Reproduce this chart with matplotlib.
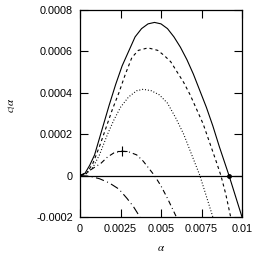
import numpy as np
import matplotlib
matplotlib.use("Agg")
import matplotlib.pyplot as plt

plt.rcParams["font.family"] = ["Liberation Sans", "DejaVu Sans"]
plt.rcParams["mathtext.fontset"] = "stix"
plt.rcParams["lines.scale_dashes"] = False

# ------------------------------------------------------------------
# Data
# ------------------------------------------------------------------

solid_x = [0, 0.0003, 0.0006, 0.0009, 0.0012, 0.0015, 0.0018, 0.0022, 0.0026, 0.003,
           0.0034, 0.0038, 0.0042, 0.0046, 0.005, 0.0054, 0.0058, 0.0062, 0.0066, 0.007,
           0.0074, 0.0078, 0.0082, 0.0086, 0.0089, 0.0092, 0.0096, 0.01]
solid_y = [0, 0.00001, 0.00005, 0.0001, 0.00018, 0.00026, 0.00034, 0.00044, 0.00053, 0.0006,
           0.00067, 0.00071, 0.000733, 0.00074, 0.000733, 0.00071, 0.00067, 0.00062, 0.00056, 0.00049,
           0.00041, 0.00033, 0.00024, 0.00014, 0.00007, 0.0, -0.0001, -0.0002]

dashed_x = [0, 0.0004, 0.0008, 0.0012, 0.0016, 0.002, 0.0024, 0.0028, 0.0032, 0.0036,
            0.0042, 0.0048, 0.0052, 0.0056, 0.006, 0.0064, 0.0068, 0.0072, 0.0076, 0.008,
            0.0084, 0.0087, 0.009, 0.0093]
dashed_y = [0, 0.00001, 0.00006, 0.00014, 0.00023, 0.00032, 0.0004, 0.00049, 0.00057, 0.000605,
            0.000617, 0.000605, 0.00058, 0.00055, 0.0005, 0.00045, 0.00039, 0.00032, 0.00025, 0.00016,
            0.00007, 0.0, -0.00009, -0.0002]

dotted_x = [0, 0.0004, 0.0008, 0.0012, 0.0017, 0.0021, 0.0025, 0.003, 0.0035, 0.0039,
            0.0044, 0.0049, 0.0054, 0.0059, 0.0064, 0.0069, 0.0074, 0.0078, 0.0082]
dotted_y = [0, 0.00001, 0.00004, 0.0001, 0.0002, 0.00027, 0.00033, 0.00038, 0.00041, 0.000417,
            0.00041, 0.00039, 0.00035, 0.00028, 0.0002, 0.0001, 0.0, -0.0001, -0.0002]

dashdot_x = [0, 0.0005, 0.0009, 0.0013, 0.0017, 0.0021, 0.0026, 0.003, 0.0035, 0.0039,
             0.0043, 0.0046, 0.005, 0.0054, 0.00595]
dashdot_y = [0, 0.00002, 0.00004, 0.00006, 0.00009, 0.00011, 0.000118, 0.000115, 0.0001, 0.00007,
             0.00003, 0.0, -0.00005, -0.00011, -0.0002]

longdash_x = [0, 0.0006, 0.0012, 0.0018, 0.0024, 0.0029, 0.0033, 0.0037]
longdash_y = [0, -0.000003, -0.000015, -0.000035, -0.000065, -0.00011, -0.00015, -0.0002]

peak_marker = (0.00257, 0.000117)
root_marker = (0.0092, 0.0)

xticks = [0, 0.0025, 0.005, 0.0075, 0.01]
xtick_labels = ["0", "0.0025", "0.005", "0.0075", "0.01"]
yticks = [-0.0002, 0, 0.0002, 0.0004, 0.0006, 0.0008]
ytick_labels = ["-0.0002", "0", "0.0002", "0.0004", "0.0006", "0.0008"]

# ------------------------------------------------------------------
# Plot
# ------------------------------------------------------------------

fig = plt.figure(figsize=(2.67, 2.58), dpi=100)
ax = fig.add_axes([80 / 267, 41 / 258, 162 / 267, 207 / 258])

lw = 0.8
ax.axhline(0, color="black", lw=0.9)
ax.plot(solid_x, solid_y, color="black", lw=lw)
ax.plot(dashed_x, dashed_y, color="black", lw=lw, linestyle=(0, (2.2, 2.2)))
ax.plot(dotted_x, dotted_y, color="black", lw=lw, linestyle=(0, (0.7, 1.4)))
ax.plot(dashdot_x, dashdot_y, color="black", lw=lw, linestyle=(0, (3.6, 2.2, 0.7, 2.2)))
ax.plot(longdash_x, longdash_y, color="black", lw=lw, linestyle=(0, (6, 2.5, 0.7, 2.5)))

ax.plot(*peak_marker, marker="+", color="black", markersize=7, mew=0.8)
ax.plot(*root_marker, marker="o", color="black", markersize=2.5)

ax.set_xlim(0, 0.01)
ax.set_ylim(-0.0002, 0.0008)
ax.set_xticks(xticks)
ax.set_xticklabels(xtick_labels)
ax.set_yticks(yticks)
ax.set_yticklabels(ytick_labels)
ax.tick_params(direction="in", length=5.8, width=0.8, top=True, right=True,
               labelsize=7.8, pad=5)
for s in ax.spines.values():
    s.set_linewidth(0.9)

ax.set_xlabel(r"$\alpha$", fontsize=8)
ax.set_ylabel(r"$c_l\alpha$", fontsize=8)
ax.xaxis.set_label_coords(0.5, -0.125)
ax.yaxis.set_label_coords(-0.383, 0.54)

fig.savefig("out.png", dpi=100)
plt.close()
